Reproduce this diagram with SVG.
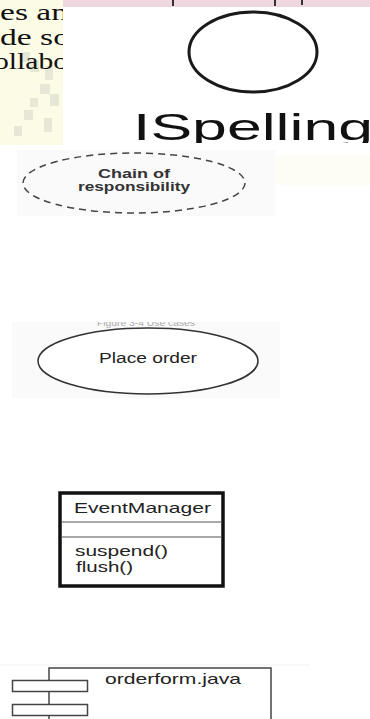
<svg xmlns="http://www.w3.org/2000/svg" width="370" height="719" viewBox="0 0 370 719">
<style>
.sans{font-family:"Liberation Sans",Arial,sans-serif;}
.serif{font-family:"Liberation Serif","Times New Roman",serif;}
.line{fill:none;stroke:#1a1a1a;}
.txt{fill:#222;}
</style>
<defs>
<clipPath id="clipLeft"><rect x="0" y="0" width="63" height="145"/></clipPath>
<clipPath id="clipTop"><rect x="63" y="7" width="307" height="136"/></clipPath>
<clipPath id="clipFig"><rect x="12" y="322" width="268" height="76"/></clipPath>
</defs>
<rect width="370" height="719" fill="#ffffff"/>

<g id="page-fragment">
<rect x="0" y="0" width="63" height="145" fill="#fcfce6"/>
<g opacity="0.18" fill="#8a8a8a">
<rect x="22" y="52" width="8" height="10"/>
<rect x="30" y="60" width="9" height="12"/>
<rect x="45" y="66" width="8" height="14"/>
<rect x="40" y="84" width="10" height="10"/>
<rect x="50" y="94" width="9" height="12"/>
<rect x="30" y="98" width="8" height="9"/>
<rect x="24" y="110" width="9" height="10"/>
<rect x="44" y="118" width="8" height="14"/>
<rect x="14" y="126" width="8" height="10"/>
</g>
<g clip-path="url(#clipLeft)" class="serif" font-size="23" fill="#111">
<text x="0" y="20" textLength="68" lengthAdjust="spacingAndGlyphs">es an</text>
<text x="0" y="45" textLength="70" lengthAdjust="spacingAndGlyphs">de so</text>
<text x="-6" y="69" textLength="74" lengthAdjust="spacingAndGlyphs">ollabo</text>
</g>
<rect x="63" y="0" width="307" height="7" fill="#eed7df"/>
<rect x="172" y="0" width="2" height="6" fill="#333"/>
<rect x="274" y="0" width="2" height="6" fill="#333"/>
<rect x="301" y="0" width="2" height="5" fill="#333"/>
</g>

<g id="ispelling">
<g clip-path="url(#clipTop)">
<ellipse cx="253" cy="52" rx="64" ry="40" class="line" stroke-width="3"/>
<text x="133" y="140" class="sans" font-size="37" fill="#111" textLength="240" lengthAdjust="spacingAndGlyphs">ISpelling</text>
</g>
</g>

<g id="chain-of-responsibility">
<rect x="17" y="150" width="258" height="66" fill="#fafafa"/>
<rect x="275" y="155" width="95" height="30" fill="#fdfdf5"/>
<ellipse cx="134" cy="183" rx="111" ry="30" fill="none" stroke="#444" stroke-width="1.5" stroke-dasharray="7,5"/>
<text x="98" y="178" class="sans" font-size="12" font-weight="bold" fill="#333" textLength="72" lengthAdjust="spacingAndGlyphs">Chain of</text>
<text x="78" y="191" class="sans" font-size="12" font-weight="bold" fill="#333" textLength="112" lengthAdjust="spacingAndGlyphs">responsibility</text>
</g>

<g id="place-order">
<rect x="12" y="322" width="268" height="76" fill="#fafafa"/>
<g clip-path="url(#clipFig)">
<text x="97" y="326" class="sans" font-size="9" fill="#aaa" textLength="98" lengthAdjust="spacingAndGlyphs">Figure 3-4 Use cases</text>
</g>
<ellipse cx="148" cy="361" rx="110" ry="33" fill="#fff" stroke="#333" stroke-width="1.5"/>
<text x="99" y="363" class="sans txt" font-size="14" textLength="98" lengthAdjust="spacingAndGlyphs">Place order</text>
</g>

<g id="event-manager">
<rect x="60" y="493" width="163" height="93" fill="#fff" stroke="#111" stroke-width="3.5"/>
<line x1="61" y1="522" x2="222" y2="522" stroke="#555" stroke-width="1"/>
<line x1="61" y1="537" x2="222" y2="537" stroke="#555" stroke-width="1"/>
<text x="74" y="513" class="sans txt" font-size="15" textLength="137" lengthAdjust="spacingAndGlyphs">EventManager</text>
<text x="75" y="556" class="sans txt" font-size="15" textLength="93" lengthAdjust="spacingAndGlyphs">suspend()</text>
<text x="76" y="572" class="sans txt" font-size="15" textLength="57" lengthAdjust="spacingAndGlyphs">flush()</text>
</g>

<g id="orderform-java">
<line x1="0" y1="665" x2="310" y2="665" stroke="#f0f0f0" stroke-width="1"/>
<polyline points="49,719 49,668 271,668 271,719" fill="none" stroke="#444" stroke-width="1.5"/>
<rect x="12.5" y="680.5" width="75" height="11" fill="#fff" stroke="#444" stroke-width="1.5"/>
<rect x="12.5" y="704.5" width="75" height="11" fill="#fff" stroke="#444" stroke-width="1.5"/>
<text x="105" y="684" class="sans txt" font-size="15" textLength="136" lengthAdjust="spacingAndGlyphs">orderform.java</text>
</g>

<g id="connectors"></g>
</svg>
